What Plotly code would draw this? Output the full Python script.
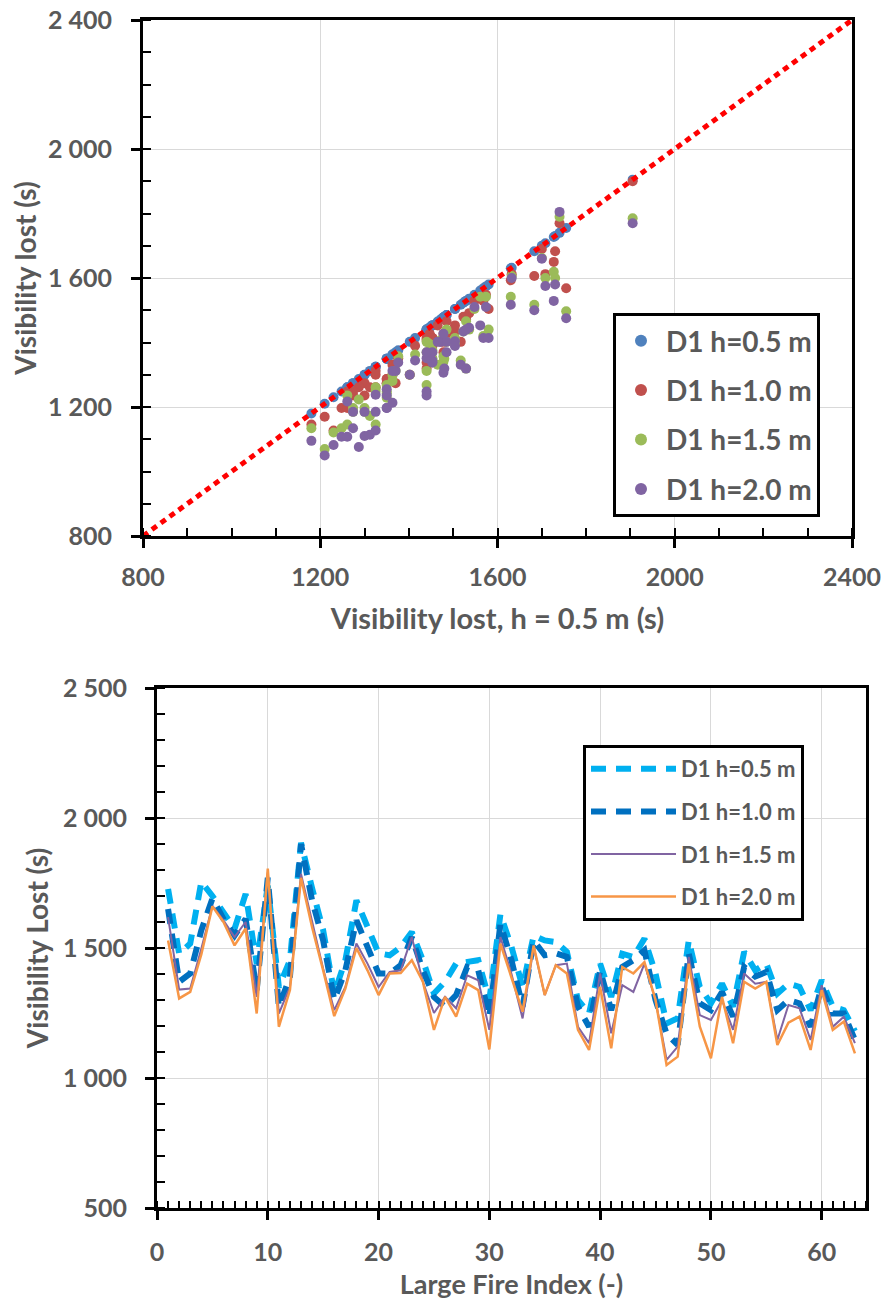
import plotly.graph_objects as go

# ---------------- data ----------------
fire_index = list(range(1, 64))

vis_h05 = [1727, 1478, 1517, 1755, 1700, 1632, 1574, 1708, 1440, 1740,
           1350, 1453, 1905, 1730, 1568, 1325, 1453, 1683, 1580, 1480,
           1472, 1504, 1561, 1453, 1325, 1370, 1440, 1447, 1453, 1300,
           1630, 1504, 1350, 1548, 1529, 1523, 1485, 1300, 1248, 1440,
           1312, 1478, 1465, 1536, 1402, 1210, 1230, 1529, 1350, 1287,
           1363, 1274, 1485, 1414, 1440, 1325, 1363, 1350, 1261, 1376,
           1274, 1261, 1180]
vis_h10 = [1650, 1370, 1402, 1568, 1690, 1612, 1548, 1612, 1338, 1770,
           1274, 1389, 1900, 1683, 1529, 1300, 1414, 1606, 1504, 1402,
           1402, 1434, 1542, 1414, 1312, 1274, 1319, 1427, 1414, 1236,
           1593, 1453, 1274, 1529, 1472, 1480, 1466, 1274, 1197, 1414,
           1261, 1427, 1453, 1491, 1300, 1170, 1127, 1478, 1287, 1261,
           1331, 1236, 1427, 1390, 1408, 1261, 1300, 1287, 1197, 1351,
           1248, 1248, 1146]
vis_h15 = [1619, 1340, 1344, 1497, 1662, 1606, 1542, 1600, 1312, 1790,
           1248, 1350, 1785, 1600, 1420, 1261, 1350, 1517, 1440, 1350,
           1408, 1414, 1542, 1370, 1250, 1312, 1268, 1395, 1376, 1185,
           1542, 1400, 1229, 1504, 1319, 1434, 1440, 1197, 1134, 1402,
           1172, 1357, 1331, 1440, 1300, 1070, 1121, 1466, 1242, 1223,
           1300, 1185, 1402, 1363, 1370, 1146, 1281, 1268, 1146, 1357,
           1197, 1236, 1134]
vis_h20 = [1529, 1306, 1331, 1475, 1660, 1600, 1510, 1575, 1248, 1805,
           1197, 1338, 1770, 1580, 1414, 1238, 1344, 1500, 1414, 1319,
           1402, 1404, 1453, 1370, 1185, 1312, 1236, 1363, 1338, 1110,
           1517, 1389, 1255, 1510, 1319, 1434, 1402, 1185, 1108, 1351,
           1114, 1427, 1402, 1446, 1300, 1050, 1082, 1440, 1197, 1076,
           1312, 1134, 1370, 1344, 1370, 1127, 1213, 1236, 1108, 1338,
           1185, 1217, 1095]

series_names = ["D1 h=0.5 m", "D1 h=1.0 m", "D1 h=1.5 m", "D1 h=2.0 m"]
series_values = [vis_h05, vis_h10, vis_h15, vis_h20]
scatter_colors = ["#4F81BD", "#C0504D", "#9BBB59", "#8064A2"]
line_colors = ["#00B0F0", "#0070C0", "#8064A2", "#F79646"]

top_range = [800, 2400]
bottom_yrange = [500, 2500]
bottom_xrange = [0, 64]

FONT = "Lato, 'Open Sans', sans-serif"
GREY = "#595959"

fig = go.Figure()

# ---------------- top scatter ----------------
for name, vals, col in zip(series_names, series_values, scatter_colors):
    fig.add_trace(go.Scatter(
        x=vis_h05, y=vals, mode="markers", name=name,
        marker=dict(color=col, size=10),
        xaxis="x", yaxis="y", legend="legend", legendgroup=name,
    ))

# 1:1 reference line
fig.add_trace(go.Scatter(
    x=top_range, y=top_range, mode="lines", showlegend=False,
    line=dict(color="#FF0000", width=5, dash="6px,5px"),
    xaxis="x", yaxis="y", hoverinfo="skip",
))

# ---------------- bottom lines ----------------
line_styles = [
    dict(width=6, dash="15px,10px"),
    dict(width=6, dash="15px,10px"),
    dict(width=2, dash="solid"),
    dict(width=2.5, dash="solid"),
]
for name, vals, col, st in zip(series_names, series_values, line_colors, line_styles):
    fig.add_trace(go.Scatter(
        x=fire_index, y=vals, mode="lines", name=name,
        line=dict(color=col, **st),
        xaxis="x2", yaxis="y2", legend="legend2", legendgroup=name + "_b",
    ))

# figure fills the whole page (body margin removed in post_script)
W, H = 884, 1307
def xd(a, b):
    return [a / W, b / W]
def yd(top, bot):
    return [1 - bot / H, 1 - top / H]
def px(a):
    return a / W
def py(a):
    return 1 - a / H

TICK = 25
axis_common = dict(
    showline=True, linecolor="black", linewidth=3, mirror=True,
    gridcolor="#D9D9D9", gridwidth=1.3, zeroline=False, automargin=False,
    ticks="outside", ticklen=9, tickwidth=3, tickcolor="black",
    ticklabeloverflow="allow",
    tickfont=dict(family=FONT, size=TICK, color=GREY, weight="bold"),
)

fig.update_layout(
    width=W, height=H,
    margin=dict(l=0, r=0, t=0, b=0),
    paper_bgcolor="white", plot_bgcolor="white",
    separators=". ",
    font=dict(family=FONT, color=GREY),
    xaxis=dict(domain=xd(143, 852), anchor="y", range=top_range,
               dtick=400, tick0=800, tickformat="d",
               minor=dict(dtick=100, ticks="inside", ticklen=8, tickwidth=2,
                          tickcolor="black", showgrid=False),
               title=dict(text="Visibility lost, h = 0.5 m (s)", standoff=19,
                          font=dict(family=FONT, size=29, color=GREY, weight="bold")),
               ticklabelstandoff=8, **axis_common),
    yaxis=dict(domain=yd(20, 536), anchor="x", range=top_range,
               dtick=400, tick0=800, tickformat=",d",
               minor=dict(dtick=100, ticks="inside", ticklen=8, tickwidth=2,
                          tickcolor="black", showgrid=False),
               title=dict(text="Visibility lost (s)", standoff=4,
                          font=dict(family=FONT, size=28, color=GREY, weight="bold")),
               ticklabelstandoff=14, **axis_common),
    xaxis2=dict(domain=xd(157, 866), anchor="y2", range=bottom_xrange,
                dtick=10, tick0=0, tickformat="d",
                minor=dict(dtick=1, ticks="inside", ticklen=7, tickwidth=2,
                           tickcolor="black", showgrid=False),
                title=dict(text="Large Fire Index (-)", standoff=11,
                           font=dict(family=FONT, size=27, color=GREY, weight="bold")),
                ticklabelstandoff=11, **axis_common),
    yaxis2=dict(domain=yd(688, 1208), anchor="x2", range=bottom_yrange,
                dtick=500, tick0=500, tickformat=",d",
                minor=dict(dtick=100, ticks="inside", ticklen=8, tickwidth=2,
                           tickcolor="black", showgrid=False),
                title=dict(text="Visibility Lost (s)", standoff=7,
                           font=dict(family=FONT, size=28, color=GREY, weight="bold")),
                ticklabelstandoff=13, **axis_common),
    legend=dict(x=px(613), y=py(313), xanchor="left", yanchor="top",
                bgcolor="white", bordercolor="black", borderwidth=3,
                font=dict(family=FONT, size=28, color=GREY, weight="bold"),
                traceorder="grouped", tracegroupgap=10,
                itemsizing="constant", itemwidth=40),
    legend2=dict(x=px(583), y=py(745), xanchor="left", yanchor="top",
                 bgcolor="white", bordercolor="black", borderwidth=3,
                 font=dict(family=FONT, size=22, color=GREY, weight="bold"),
                 traceorder="grouped", tracegroupgap=11, itemwidth=85),
)

fig.write_html(
    "out.html",
    config={"displayModeBar": False},
    post_script="document.body.style.margin='0px';"
                "document.body.style.overflow='hidden';",
)
